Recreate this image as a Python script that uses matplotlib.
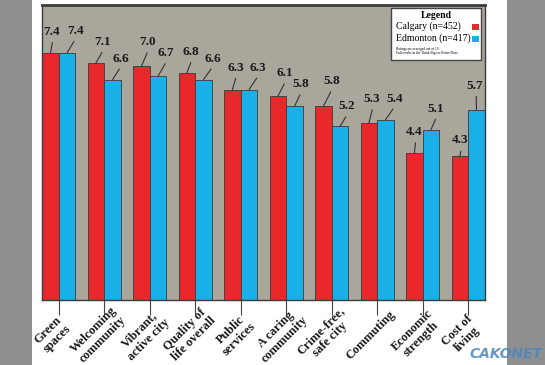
import matplotlib
matplotlib.use("Agg")
import matplotlib.pyplot as plt
from matplotlib.patches import Rectangle
from matplotlib.transforms import ScaledTranslation
import numpy as np

categories = ["Green\nspaces", "Welcoming\ncommunity", "Vibrant,\nactive city",
              "Quality of\nlife overall", "Public\nservices", "A caring\ncommunity",
              "Crime-free,\nsafe city", "Commuting", "Economic\nstrength", "Cost of\nliving"]
calgary = [7.4, 7.1, 7.0, 6.8, 6.3, 6.1, 5.8, 5.3, 4.4, 4.3]
edmonton = [7.4, 6.6, 6.7, 6.6, 6.3, 5.8, 5.2, 5.4, 5.1, 5.7]

# label offsets in pixels (dx, dy to text centre)
cal_dx = [1, 7, 6, 4, 3, 7, 8, 3, 0, 0]
cal_dy = [21, 21, 24, 21, 22, 23, 25, 24, 21, 16]
edm_dx = [8, 8, 8, 9, 9, 6, 7, 9, 5, -2]
edm_dy = [22, 21, 23, 21, 22, 22, 20, 21, 21, 24]

W, H = 545, 365
def px(x, y):
    return x / W, 1 - y / H

red = "#e8282a"
blue = "#18b0e6"
dark = "#333333"

fig = plt.figure(figsize=(W / 100, H / 100), dpi=100, facecolor="#8f8f8f")
fig.add_artist(Rectangle(px(32, 365), 475 / W, 1, transform=fig.transFigure,
                         facecolor="white", edgecolor="none", zorder=-5))

ax = fig.add_axes([42 / W, 1 - 300 / H, 443 / W, 295 / H])
ax.set_facecolor("#a9a69b")

x = np.arange(len(categories))
w = 0.365
ax.bar(x - w / 2, calgary, w, color=red, edgecolor="#3a3a3a", linewidth=0.6)
ax.bar(x + w / 2, edmonton, w, color=blue, edgecolor="#3a3a3a", linewidth=0.6)

lab_font = dict(family="Liberation Serif", weight="bold", size=9.5, color="#1a1a1a")
for vals, off, dxs, dys in [(calgary, -w / 2, cal_dx, cal_dy), (edmonton, w / 2, edm_dx, edm_dy)]:
    for i, v in enumerate(vals):
        ax.annotate(f"{v:.1f}", xy=(x[i] + off, v), xytext=(dxs[i], dys[i]),
                    textcoords="offset pixels", ha="center", va="center",
                    arrowprops=dict(arrowstyle="-", color=dark, lw=0.8,
                                    shrinkA=1.5, shrinkB=0, relpos=(0.6, 0)),
                    **lab_font)

ax.set_xlim(-0.37, 9.37)
ax.set_ylim(0, 8.83)
ax.set_yticks([])
ax.set_xticks(x)
ax.set_xticklabels(categories, rotation=45, ha="center", va="center",
                   rotation_mode="anchor", multialignment="center", linespacing=1.1,
                   family="Liberation Serif", weight="bold", size=9, color="#1a1a1a")
ax.tick_params(axis="x", length=11, width=0.8, color="#444444", pad=14)
shift = ScaledTranslation(-6 / 100, 0, fig.dpi_scale_trans)
for t in ax.get_xticklabels():
    t.set_transform(t.get_transform() + shift)
for s in ax.spines.values():
    s.set_color("#3c3c3c")
    s.set_linewidth(1.0)
ax.spines["top"].set_linewidth(2.0)

# legend box
lx0, ly0, lx1, ly1 = 391, 8, 481, 60
fig.add_artist(Rectangle(px(lx0, ly1), (lx1 - lx0) / W, (ly1 - ly0) / H,
                         transform=fig.transFigure, facecolor="white",
                         edgecolor="#444444", linewidth=1.0, zorder=5))
serif = "Liberation Serif"
fig.text(*px(436, 15), "Legend", ha="center", va="center", family=serif,
         weight="bold", size=7, zorder=6)
fig.text(*px(396, 26), "Calgary (n=452)", ha="left", va="center", family=serif,
         size=7, zorder=6)
fig.text(*px(396, 38), "Edmonton (n=417)", ha="left", va="center", family=serif,
         size=7, zorder=6)
fig.add_artist(Rectangle(px(472, 30), 7 / W, 6 / H, transform=fig.transFigure,
                         facecolor=red, edgecolor="none", zorder=6))
fig.add_artist(Rectangle(px(472, 42), 7 / W, 6 / H, transform=fig.transFigure,
                         facecolor=blue, edgecolor="none", zorder=6))
fig.text(*px(396, 49), "Ratings are averaged out of 10.", ha="left", va="center",
         family=serif, size=2.5, zorder=6)
fig.text(*px(396, 53), "Full results in the Think Big for Better Place", ha="left",
         va="center", family=serif, size=2.5, zorder=6)

fig.text(*px(543, 354), "CAKONET", ha="right", va="center", family="DejaVu Sans",
         weight="bold", style="italic", size=10, color="#4a86c0", alpha=0.85)

fig.savefig("out.png", dpi=100, facecolor=fig.get_facecolor())
